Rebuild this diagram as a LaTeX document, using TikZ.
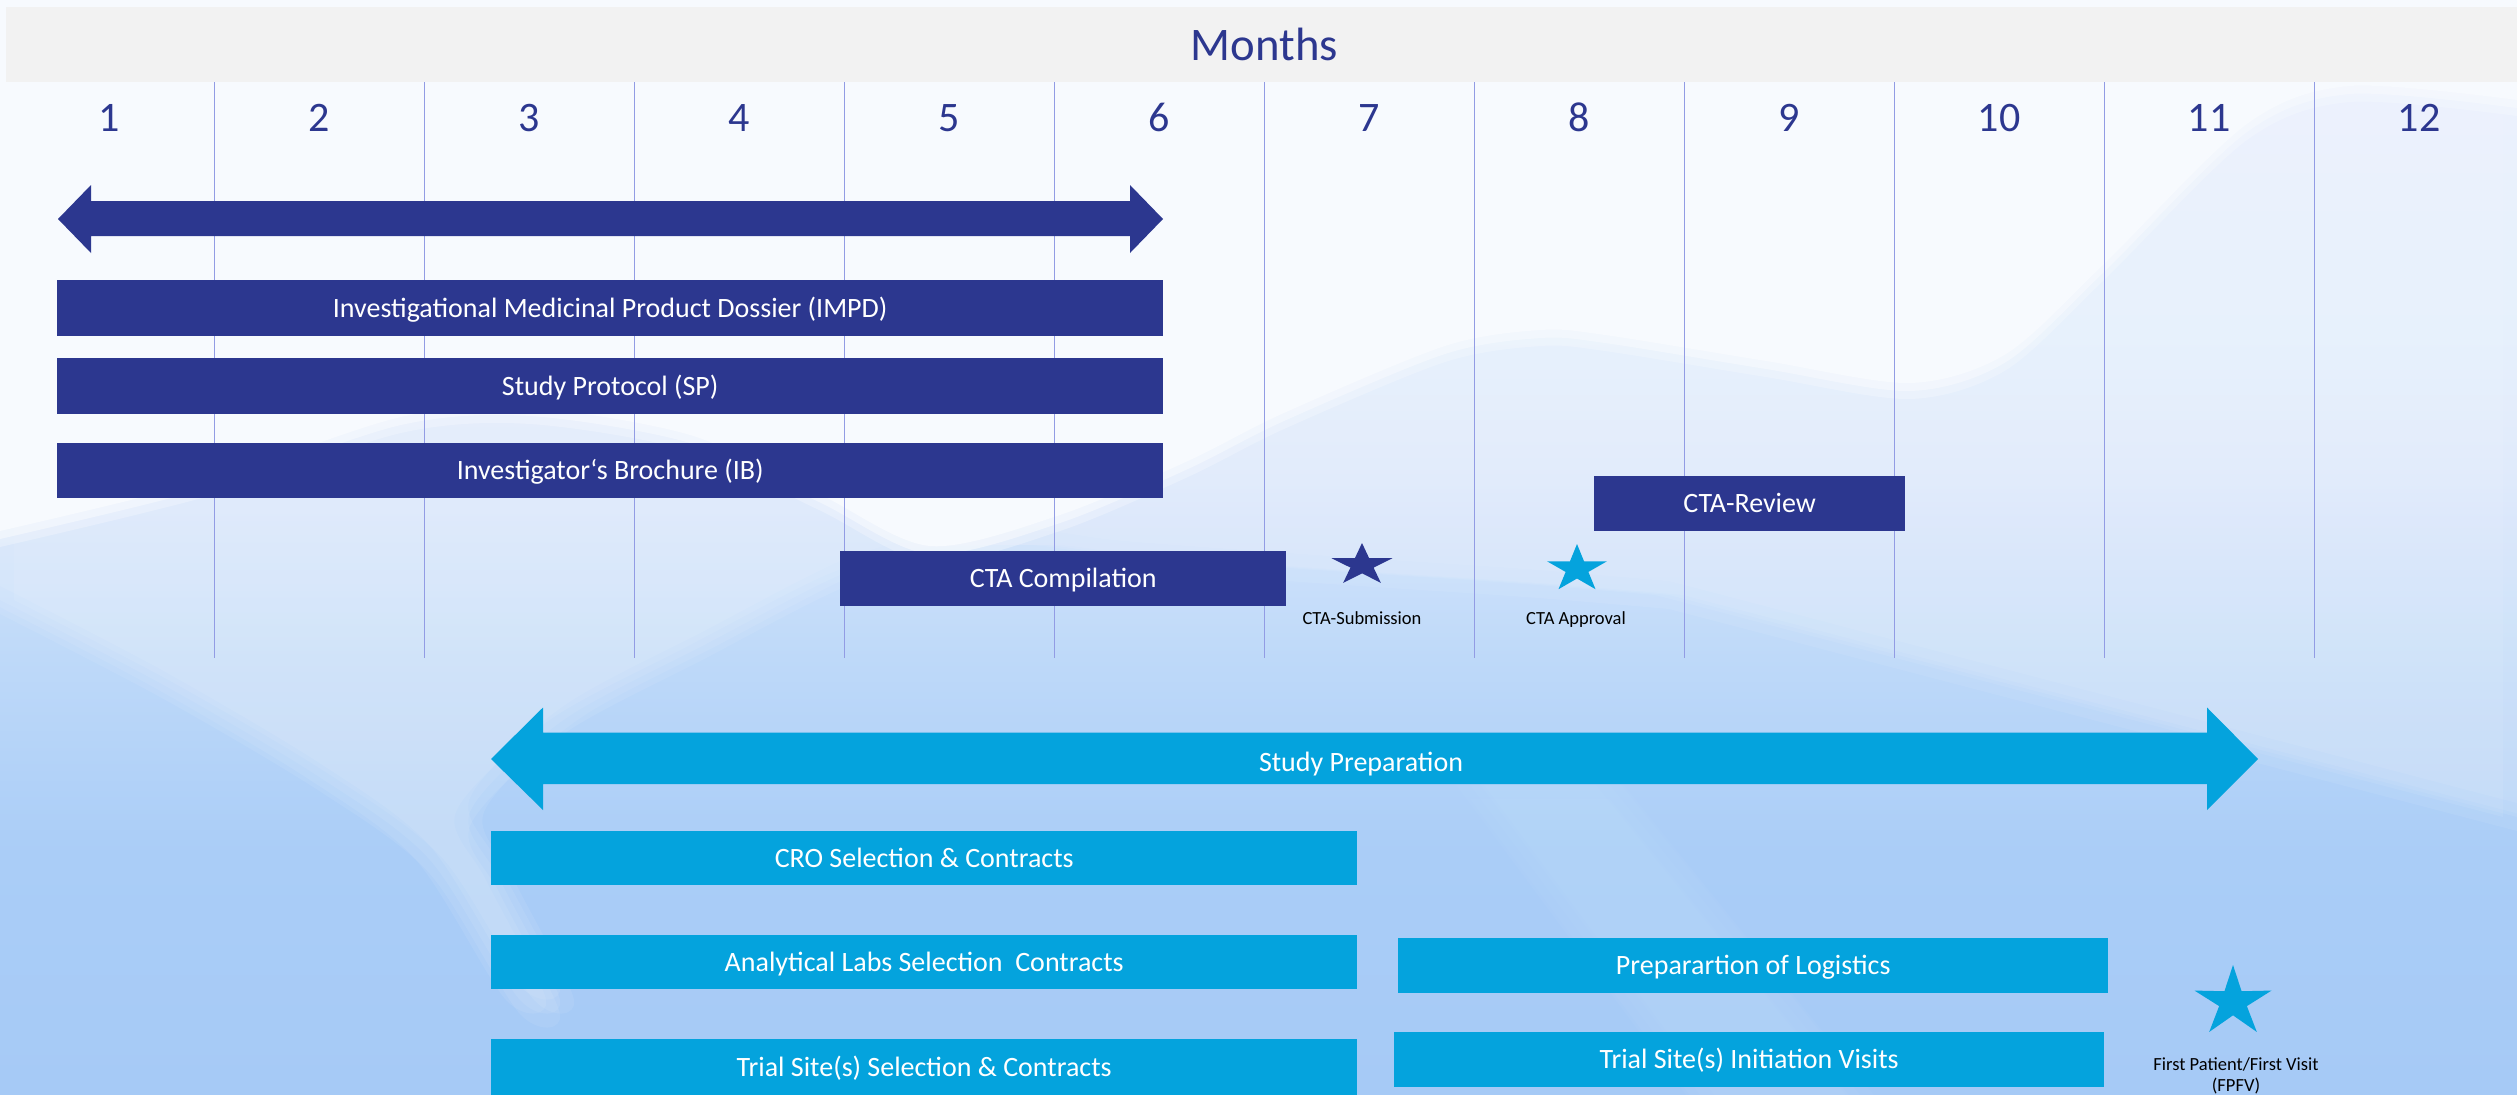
\documentclass[tikz,border=0pt]{standalone}
\usepackage{fontspec}
\setmainfont{Carlito}
\usepackage{tikz}
\definecolor{planblue}{RGB}{44,55,143}
\definecolor{prepblue}{RGB}{4,163,221}
\definecolor{gridblue}{RGB}{146,156,228}
\definecolor{headgray}{RGB}{242,242,242}
\definecolor{bgtop}{RGB}{234,242,253}
\definecolor{bghigh}{RGB}{226,237,252}
\definecolor{bgpale}{RGB}{215,230,251}
\definecolor{bgmid}{RGB}{190,217,249}
\definecolor{bglow}{RGB}{170,205,247}
\definecolor{bgdeep}{RGB}{166,202,246}
\definecolor{hillwhite}{RGB}{247,250,254}
\pgfdeclareverticalshading{skyfade}{100bp}{color(0bp)=(bgdeep); color(25bp)=(bgdeep); color(36bp)=(bglow); color(45bp)=(bgmid); color(53bp)=(bgpale); color(61bp)=(bghigh); color(75bp)=(bgtop); color(100bp)=(bgtop)}

\begin{document}
\begin{tikzpicture}[x=1pt,y=-1pt,
  bar/.style={anchor=north west,inner sep=0pt,text=white,font=\fontsize{28}{34}\selectfont,text height=18pt,text depth=0pt},
  planbar/.style={bar,fill=planblue},
  prepbar/.style={bar,fill=prepblue},
  monthnum/.style={anchor=base,text=planblue,font=\fontsize{42}{50}\selectfont},
  gridline/.style={draw=gridblue,line width=1pt},
  milestone/.style={anchor=base,text=black,font=\fontsize{18.5}{21.7}\selectfont,align=center},
  haze/.style={fill=white,opacity=#1}]
\useasboundingbox (0,0) rectangle (2517,1095);
\clip (0,0) rectangle (2517,1095);

% background, the light patches are laid five times with a small offset for soft edges
\fill[shading=skyfade] (0,0) rectangle (2517,1095);
\foreach \dx/\dy in {0/0,14/0,-14/0,0/14,0/-14}{
  % light valley on the left
  \fill[haze=0.075,xshift=\dx pt,yshift=\dy pt] (0,0) -- (0,600) -- plot[smooth] coordinates {(0,600) (160,683) (321,778) (430,860) (520,1000) (560,1000) (500,880) (470,812) (562,721) (706,644) (840,575) (931,547)} -- (931,0) -- cycle;
  % light slope above the ridge on the right
  \fill[haze=0.07,xshift=\dx pt,yshift=\dy pt] (931,0) -- (931,547) -- plot[smooth] coordinates {(931,547) (1043,545) (1124,555) (1330,570) (1525,583) (1669,595)} -- (2517,817) -- (2517,0) -- cycle;
  % faint streak below the arrow
  \fill[haze=0.025,xshift=\dx pt,yshift=\dy pt] (1470,785) -- (1610,785) -- (1860,1095) -- (1700,1095) -- cycle;
}
% white hills on top, soft edge first
\foreach \d/\o in {16/0.35,8/0.6,0/1}
\fill[hillwhite,opacity=\o,yshift=-\d pt] (0,-20) -- (2517,-20) -- (2517,100) -- plot[smooth] coordinates {(2517,100) (2350,86) (2247,124) (2103,265) (2006,354) (1910,383) (1766,361) (1605,335) (1541,330) (1445,346) (1284,413) (1188,461) (1060,515) (930,546) (819,494) (690,435) (530,408) (401,417) (209,480) (0,531)} -- cycle;

% header
\fill[headgray] (6,7) rectangle (2517,82);
\node[anchor=base,text=planblue,font=\fontsize{46.7}{56}\selectfont] (months) at (1264.5,60) {Months};
\foreach \k in {0,...,10}
\draw[gridline] ({214+210*\k},82) -- ({214+210*\k},658);
\foreach \m in {1,...,12}
\node[monthnum] (m\m) at ({109+210*(\m-1)},131.8) {\m};

% regulatory part
\fill[planblue] (58,219) -- (91,185) -- (91,201) -- (1130,201) -- (1130,185) -- (1163,219) -- (1130,253) -- (1130,236) -- (91,236) -- (91,253) -- cycle;
\node[planbar,minimum width=1106pt,minimum height=56pt] (impd) at (57,280) {Investigational Medicinal Product Dossier (IMPD)};
\node[planbar,minimum width=1106pt,minimum height=56pt] (sp) at (57,358) {Study Protocol (SP)};
\node[planbar,minimum width=1106pt,minimum height=55pt] (ib) at (57,443) {Investigator‘s Brochure (IB)};
\node[planbar,minimum width=311pt,minimum height=55pt] (review) at (1594,476) {CTA-Review};
\node[planbar,minimum width=446pt,minimum height=55pt] (compil) at (840,551) {CTA Compilation};

% milestones
\coordinate (subm) at (1362,565);
\coordinate (appr) at (1577,569);
\coordinate (fpfv) at (2233,1002);
\fill[planblue,shift={(subm)},xscale=32,yscale=22] (-90:1) \foreach \k in {1,...,9} {-- ({-90+36*\k}:{mod(\k,2)==0 ? 1 : 0.38})} -- cycle;
\fill[prepblue,shift={(appr)},xscale=31.5,yscale=25] (-90:1) \foreach \k in {1,...,9} {-- ({-90+36*\k}:{mod(\k,2)==0 ? 1 : 0.38})} -- cycle;
\fill[prepblue,shift={(fpfv)},xscale=40.5,yscale=37] (-90:1) \foreach \k in {1,...,9} {-- ({-90+36*\k}:{mod(\k,2)==0 ? 1 : 0.36})} -- cycle;
\node[milestone] (subm-t) at (1362,624.3) {CTA-Submission};
\node[milestone] (appr-t) at (1576,624.3) {CTA Approval};
\node[milestone] (fpfv-t) at (2236,1091.7) {First Patient/First Visit\\(FPFV)};

% study preparation
\fill[prepblue] (491,759) -- (543,707.5) -- (543,732.5) -- (2207,732.5) -- (2207,707.5) -- (2258,759) -- (2207,810) -- (2207,784) -- (543,784) -- (543,810) -- cycle;
\node[anchor=base,text=white,font=\fontsize{28}{34}\selectfont] (prep) at (1361,771.4) {Study Preparation};
\node[prepbar,minimum width=866pt,minimum height=54pt] (cro) at (491,831) {CRO Selection \& Contracts};
\node[prepbar,minimum width=866pt,minimum height=54pt] (labs) at (491,935) {Analytical Labs Selection\ \ Contracts};
\node[prepbar,minimum width=866pt,minimum height=56pt] (sites) at (491,1039) {Trial Site(s) Selection \& Contracts};
\node[prepbar,minimum width=710pt,minimum height=55pt] (logist) at (1398,938) {Preparartion of Logistics};
\node[prepbar,minimum width=710pt,minimum height=55pt] (visits) at (1394,1032) {Trial Site(s) Initiation Visits};
\end{tikzpicture}
\end{document}
